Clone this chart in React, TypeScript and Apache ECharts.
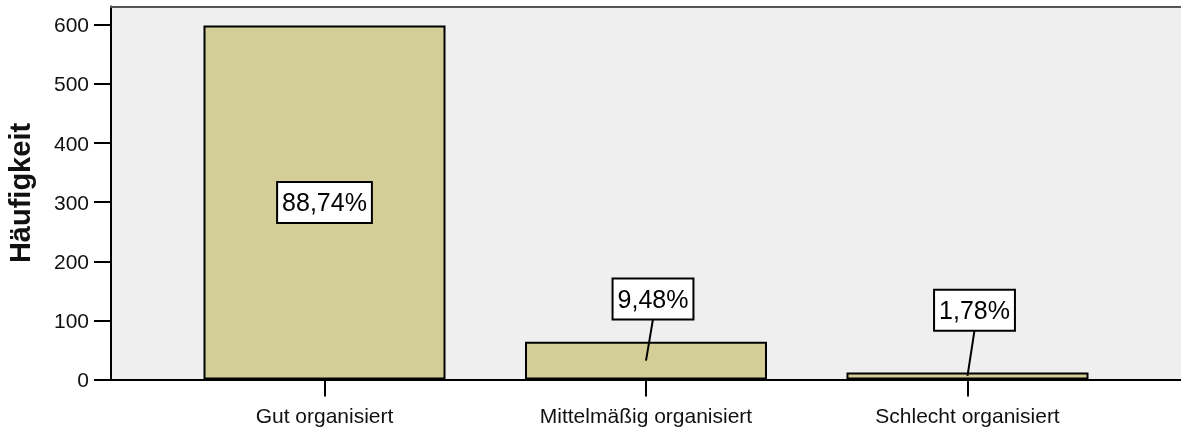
import React, { useEffect, useRef } from "react";
import * as echarts from "echarts";

const categories = ["Gut organisiert", "Mittelmäßig organisiert", "Schlecht organisiert"];
const counts = [599, 64, 12];
const percentLabels = ["88,74%", "9,48%", "1,78%"];
const yTicks = [0, 100, 200, 300, 400, 500, 600];
const yMax = 631;

// label placement (presentation only)
const labelAnchorValue: (number | null)[] = [null, 136, 117];
const labelDx = [0, 7, 7];

const FONT = "'Liberation Sans', Arial, Helvetica, sans-serif";

export default function App() {
  const ref = useRef<HTMLDivElement>(null);
  useEffect(() => {
    if (!ref.current) return;
    const chart = echarts.init(ref.current, null, { renderer: "svg" });
    const option: any = {
      animation: false,
      textStyle: { fontFamily: FONT },
      grid: [
        { left: 111, right: 0, top: 6.5, bottom: 52.5, show: true, backgroundColor: "#efefef", borderWidth: 0, containLabel: false, outerBoundsMode: "none" },
        { left: 163.75, right: 52.75, top: 6.5, bottom: 52.5, containLabel: false, outerBoundsMode: "none" },
      ],
      xAxis: [
        {
          gridIndex: 0, type: "value", min: 0, max: 1, position: "bottom",
          axisLine: { show: true, lineStyle: { color: "#000", width: 2 } },
          axisTick: { show: false }, axisLabel: { show: false }, splitLine: { show: false },
        },
        {
          gridIndex: 1, type: "category", data: categories, boundaryGap: true,
          axisLine: { show: false },
          axisTick: { show: true, alignWithLabel: true, length: 17, lineStyle: { color: "#000", width: 2 } },
          axisLabel: { fontSize: 21, color: "#111", margin: 25, fontFamily: FONT },
        },
        {
          gridIndex: 0, type: "value", min: 0, max: 1, position: "top",
          axisLine: { show: true, lineStyle: { color: "#555", width: 2 } },
          axisTick: { show: false }, axisLabel: { show: false }, splitLine: { show: false },
        },
      ],
      yAxis: [
        {
          gridIndex: 0, type: "value", min: 0, max: yMax,
          axisLine: { show: true, lineStyle: { color: "#000", width: 2 } },
          axisTick: { show: true, length: 17, lineStyle: { color: "#000", width: 2 }, customValues: yTicks },
          axisLabel: { fontSize: 21, color: "#111", margin: 22, customValues: yTicks, fontFamily: FONT },
          splitLine: { show: false },
          name: "Häufigkeit", nameLocation: "middle", nameGap: 77,
          nameTextStyle: { fontSize: 29, fontWeight: "bold", color: "#111", fontFamily: FONT },
        },
        { gridIndex: 1, type: "value", min: 0, max: yMax, show: false },
      ],
      series: [
        {
          type: "bar", xAxisIndex: 1, yAxisIndex: 1, data: counts, barWidth: 242,
          itemStyle: { color: "#d3ce98", borderColor: "#000", borderWidth: 2 },
        },
        {
          type: "custom", xAxisIndex: 1, yAxisIndex: 1, z: 10,
          data: counts.map((v, i) => [i, v]),
          encode: { x: 0, y: 1 },
          renderItem: (params: any, api: any) => {
            const i = params.dataIndex;
            const v = api.value(1);
            const c = api.coord([i, v / 2]);
            const anchor = labelAnchorValue[i];
            let bx = c[0], by = c[1];
            const children: any[] = [];
            if (anchor != null) {
              const a = api.coord([i, anchor]);
              bx = a[0] + labelDx[i];
              by = a[1];
              children.push({
                type: "line",
                shape: { x1: c[0], y1: c[1], x2: bx, y2: by + 20 },
                style: { stroke: "#000", lineWidth: 2 },
              });
            }
            children.push({
              type: "text", x: bx, y: by,
              style: {
                text: percentLabels[i], fontSize: 25, fontFamily: FONT, fill: "#000",
                align: "center", verticalAlign: "middle",
                backgroundColor: "#fff", borderColor: "#000", borderWidth: 2,
                padding: [7, 4, 7, 4],
              },
            });
            return { type: "group", children };
          },
        },
      ],
    };
    chart.setOption(option);
    return () => chart.dispose();
  }, []);
  return <div ref={ref} style={{ position: "fixed", left: 0, top: 0, width: 1181, height: 432 }} />;
}
